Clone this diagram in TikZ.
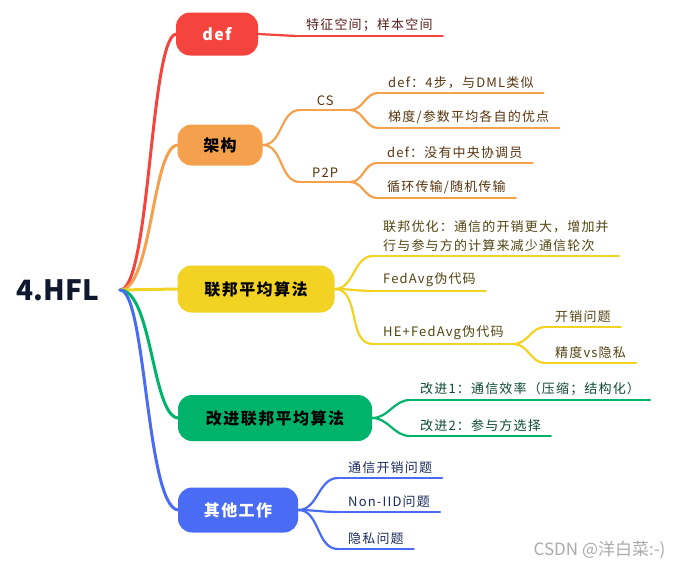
\documentclass[tikz,border=0pt]{standalone}
\usepackage{fontspec}
\setmainfont{Noto Sans CJK SC}
\newfontfamily\spacedfont{Noto Sans CJK SC}[LetterSpace=9]
\usepackage{tikz}
\usepackage{xcolor}
\usetikzlibrary{positioning}
\definecolor{mmred}{HTML}{F5443D}
\definecolor{mmorange}{HTML}{F5A04C}
\definecolor{mmyellow}{HTML}{F2D324}
\definecolor{mmgreen}{HTML}{00B36B}
\definecolor{mmblue}{HTML}{4A6CF5}
\definecolor{mmnavy}{HTML}{101830}
\definecolor{redtxt}{HTML}{5C1E1E}
\definecolor{orgtxt}{HTML}{5A3510}
\definecolor{yeltxt}{HTML}{524512}
\definecolor{grntxt}{HTML}{0E4A33}
\definecolor{blutxt}{HTML}{1C2A5E}
\tikzset{
  topic/.style={rounded corners=14pt, inner sep=0pt, font=\spacedfont\fontsize{16}{18}\selectfont\bfseries},
  leaf/.style={anchor=south west, inner xsep=10pt, inner ysep=4pt, align=left, font=\spacedfont\fontsize{13}{19}\selectfont},
  mainbr/.style={line width=3pt, line cap=round},
  subbr/.style={line width=2.2pt, line cap=round},
  uline/.style={line width=2pt, line cap=round}
}
\begin{document}
\begin{tikzpicture}[x=1pt, y=-1pt]
  \useasboundingbox[fill=white] (0,0) rectangle (674,571);
  \node[font=\fontsize{28}{30}\selectfont\bfseries, text=mmnavy] (hfl) at (58,290) {4.HFL};
  \coordinate (hub) at (120,290);

  \node[topic, fill=mmred, text=white, minimum width=82pt, minimum height=43pt] (def) at (217,34) {def};
  \node[topic, fill=mmorange, text=black, minimum width=85pt, minimum height=41pt] (arch) at (220,145) {架构};
  \node[topic, fill=mmyellow, text=black, minimum width=157pt, minimum height=47pt] (fed) at (256,289) {联邦平均算法};
  \node[topic, fill=mmgreen, text=black, minimum width=194pt, minimum height=46pt] (imp) at (275,418) {改进联邦平均算法};
  \node[topic, fill=mmblue, text=white, minimum width=120pt, minimum height=45pt] (oth) at (238,510) {其他工作};

  \draw[mainbr, mmred] (hub) .. controls (150,290) and (150,40) .. (def.west);
  \draw[mainbr, mmorange] (hub) .. controls (152,290) and (152,148) .. (arch.west);
  \draw[mainbr, mmyellow] (hub) -- (fed.west);
  \draw[mainbr, mmgreen] (hub) .. controls (152,290) and (152,415) .. (imp.west);
  \draw[mainbr, mmblue] (hub) .. controls (146,290) and (146,505) .. (oth.west);

  \node[leaf, text=redtxt] (space) at (296,36) {特征空间；样本空间};
  \draw[subbr, mmred] (def.east) -- (space.south west);
  \draw[uline, mmred] (space.south west) -- (space.south east);

  \node[leaf, text=orgtxt, minimum width=50pt] (cs) at (300,110) {CS};
  \node[leaf, text=orgtxt] (cs1) at (378,93) {def：4步，与DML类似};
  \node[leaf, text=orgtxt] (cs2) at (378,128) {梯度/参数平均各自的优点};
  \node[leaf, text=orgtxt, minimum width=50pt] (p2p) at (300,182) {P2P};
  \node[leaf, text=orgtxt] (p2p1) at (377,163) {def：没有中央协调员};
  \node[leaf, text=orgtxt] (p2p2) at (377,198) {循环传输/随机传输};
  \draw[subbr, mmorange] (arch.east) to[out=0, in=180] (cs.south west);
  \draw[subbr, mmorange] (arch.east) to[out=0, in=180] (p2p.south west);
  \draw[subbr, mmorange] (cs.south east) to[out=0, in=180] (cs1.south west);
  \draw[subbr, mmorange] (cs.south east) to[out=0, in=180] (cs2.south west);
  \draw[subbr, mmorange] (p2p.south east) to[out=0, in=180] (p2p1.south west);
  \draw[subbr, mmorange] (p2p.south east) to[out=0, in=180] (p2p2.south west);
  \foreach \n in {cs, cs1, cs2, p2p, p2p1, p2p2}
    \draw[uline, mmorange] (\n.south west) -- (\n.south east);

  \node[leaf, text=yeltxt] (opt) at (373,256) {联邦优化：通信的开销更大，增加并\\行与参与方的计算来减少通信轮次};
  \node[leaf, text=yeltxt] (code) at (373,291) {FedAvg伪代码};
  \node[leaf, text=yeltxt] (he) at (373,344) {HE+FedAvg伪代码};
  \node[leaf, text=yeltxt] (cost) at (545,327) {开销问题};
  \node[leaf, text=yeltxt] (acc) at (545,363) {精度vs隐私};
  \draw[subbr, mmyellow] (fed.east) to[out=0, in=180] (opt.south west);
  \draw[subbr, mmyellow] (fed.east) to[out=0, in=180] (code.south west);
  \draw[subbr, mmyellow] (fed.east) to[out=0, in=180] (he.south west);
  \draw[subbr, mmyellow] (he.south east) to[out=0, in=180] (cost.south west);
  \draw[subbr, mmyellow] (he.south east) to[out=0, in=180] (acc.south west);
  \foreach \n in {opt, code, he, cost, acc}
    \draw[uline, mmyellow] (\n.south west) -- (\n.south east);

  \node[leaf, text=grntxt] (imp1) at (410,400) {改进1：通信效率（压缩；结构化）};
  \node[leaf, text=grntxt] (imp2) at (410,436) {改进2：参与方选择};
  \draw[subbr, mmgreen] (imp.east) to[out=0, in=180] (imp1.south west);
  \draw[subbr, mmgreen] (imp.east) to[out=0, in=180] (imp2.south west);
  \foreach \n in {imp1, imp2}
    \draw[uline, mmgreen] (\n.south west) -- (\n.south east);

  \node[leaf, text=blutxt] (oth1) at (338,478) {通信开销问题};
  \node[leaf, text=blutxt] (oth2) at (338,512) {Non-IID问题};
  \node[leaf, text=blutxt] (oth3) at (338,549) {隐私问题};
  \draw[subbr, mmblue] (oth.east) to[out=0, in=180] (oth1.south west);
  \draw[subbr, mmblue] (oth.east) to[out=0, in=180] (oth2.south west);
  \draw[subbr, mmblue] (oth.east) to[out=0, in=180] (oth3.south west);
  \foreach \n in {oth1, oth2, oth3}
    \draw[uline, mmblue] (\n.south west) -- (\n.south east);

  \node[anchor=east, font=\fontsize{17}{19}\selectfont, text=black!33] (mark) at (669,550) {CSDN @洋白菜:-)};
\end{tikzpicture}
\end{document}
